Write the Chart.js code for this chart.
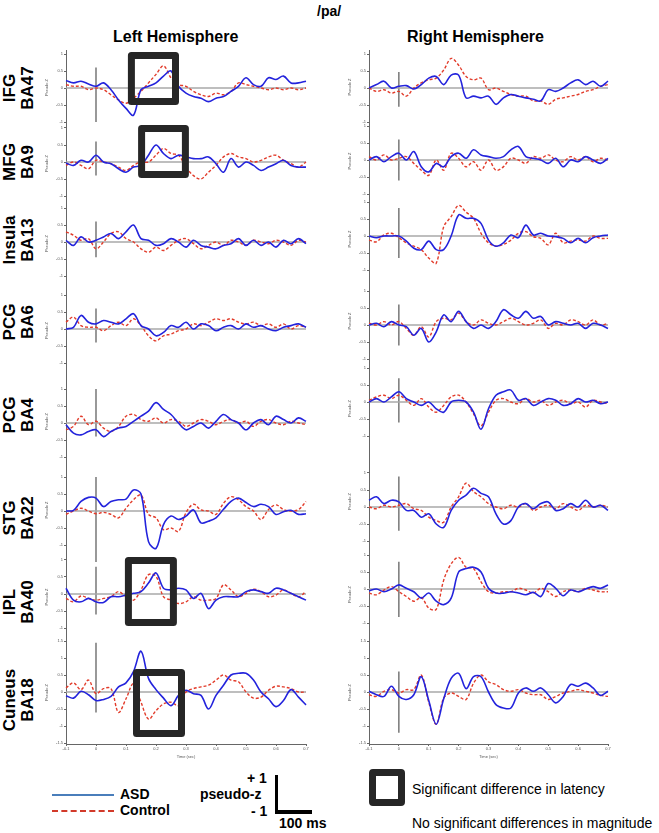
<!DOCTYPE html>
<html>
<head>
<meta charset="utf-8">
<script src="https://cdn.jsdelivr.net/npm/chart.js@4.4.0/dist/chart.umd.min.js"></script>
<style>
  body { margin:0; background:#fff; width:659px; height:833px; position:relative; overflow:hidden;
         font-family:"Liberation Sans", Arial, sans-serif; color:#000; }
  canvas { position:absolute; }
  .t { position:absolute; white-space:nowrap; }
  .b { font-weight:bold; }
  .row { position:absolute; width:120px; height:36px; line-height:18px; font-size:17px; font-weight:bold;
         text-align:center; transform:rotate(-90deg); white-space:nowrap; }
</style>
</head>
<body>

<div class="t b" style="left:317px;top:3px;font-size:14px;">/pa/</div>
<div class="t b" style="left:113px;top:28px;font-size:16px;">Left Hemisphere</div>
<div class="t b" style="left:407px;top:28px;font-size:16px;">Right Hemisphere</div>

<div id="rows"></div>

<!-- legend -->
<div style="position:absolute;left:52px;top:794px;width:62px;border-top:2px solid #4a7ebb;"></div>
<div class="t b" style="left:120px;top:786px;font-size:14px;">ASD</div>
<div style="position:absolute;left:52px;top:810px;width:62px;border-top:2px dashed #d23a2a;"></div>
<div class="t b" style="left:120px;top:802px;font-size:14px;">Control</div>

<div class="t b" style="left:247px;top:770px;font-size:14px;">+ 1</div>
<div class="t b" style="left:200px;top:786px;font-size:14px;">pseudo-z</div>
<div class="t b" style="left:251px;top:803px;font-size:14px;">- 1</div>
<div style="position:absolute;left:275px;top:775px;width:3px;height:39px;background:#000;"></div>
<div style="position:absolute;left:275px;top:810px;width:37px;height:4px;background:#000;"></div>
<div class="t b" style="left:279px;top:815px;font-size:14px;">100 ms</div>

<div style="position:absolute;left:369px;top:769px;width:36px;height:37px;box-sizing:border-box;border:7px solid #262626;border-radius:4px;"></div>
<div class="t" style="left:412px;top:781px;font-size:14px;">Significant difference in latency</div>
<div class="t" style="left:412px;top:815px;font-size:14px;">No significant differences in magnitude</div>

<script>
// time axis (s)
const times = [-0.1,-0.075,-0.05,-0.025,0,0.025,0.05,0.075,0.1,0.125,0.15,0.175,0.2,0.225,0.25,0.275,0.3,
               0.325,0.35,0.375,0.4,0.425,0.45,0.475,0.5,0.525,0.55,0.575,0.6,0.625,0.65,0.675,0.7];
const xTickLabels = ["-0.1","0","0.1","0.2","0.3","0.4","0.5","0.6","0.7"];
const yTickLabels = ["-1","-0.5","0","0.5","1"];
const yTickLabelsLast = ["-1.5","-1","-0.5","0","0.5","1","1.5"];

const rowNames = [["IFG","BA47"],["MFG","BA9"],["Insula","BA13"],["PCG","BA6"],
                  ["PCG","BA4"],["STG","BA22"],["IPL","BA40"],["Cuneus","BA18"]];

// ---- left hemisphere ----
const lIFG_asd = [0.22,0.15,0.2,0.12,0.05,0.15,-0.05,-0.35,-0.6,-0.8,-0.05,0.05,0.15,0.35,0.5,0.05,-0.15,-0.25,-0.3,-0.4,-0.3,-0.25,-0.1,0.05,0.3,0.1,0.05,0.3,0.25,0.35,0.15,0.15,0.2];
const lIFG_ctl = [0.1,0.05,0.05,-0.05,0,-0.05,-0.2,-0.35,-0.45,-0.3,-0.1,0.15,0.4,0.65,0.3,0.1,0.05,-0.1,-0.2,-0.25,-0.15,-0.2,-0.1,0.15,0.1,0.05,0,-0.05,0,-0.05,0,-0.05,0];
const lMFG_asd = [-0.03,-0.1,0.05,0,0.2,0,-0.05,-0.2,-0.3,-0.15,-0.1,0.2,0.5,0.25,0.1,0.2,0.15,0.1,0.1,0.15,-0.05,-0.3,0.1,-0.15,0,-0.1,-0.25,-0.15,-0.05,0.05,-0.1,-0.15,-0.15];
const lMFG_ctl = [-0.1,0,-0.1,-0.2,0.05,0,-0.05,-0.15,-0.25,-0.1,0,0,0.2,0.4,0.25,0.2,-0.15,-0.4,-0.5,-0.3,-0.1,0.15,0.25,0.15,0.1,0,0.05,0.15,0.2,0.05,-0.05,-0.15,0];
const lIns_asd = [0.05,-0.1,0.15,0,0.05,0.15,0.25,0.1,0.3,0.5,0.1,0.05,-0.1,-0.05,0.1,0,-0.15,0.05,-0.1,-0.15,-0.2,-0.1,-0.05,0.1,-0.1,0.05,-0.1,0,-0.15,0.05,-0.05,0.1,-0.05];
const lIns_ctl = [0.3,0.2,0.05,0.1,-0.2,0,0.25,0.3,0.1,0,-0.2,-0.3,-0.15,-0.25,-0.1,0.05,0.1,-0.05,-0.2,-0.1,0,-0.1,0.05,0,-0.1,0.05,0,-0.05,0.05,0,-0.1,0.05,0];
const lPCG6_asd = [0,0.05,0.4,0.2,0.15,0.25,0.2,0.15,0.3,0.45,0.1,0,-0.2,-0.1,0.1,0.05,0.2,0,0.15,0.1,-0.05,0.05,0.1,0,0.15,0.05,0.1,0,-0.05,0.05,0.1,0.15,0.05];
const lPCG6_ctl = [0.2,0.35,0.1,0.05,0.05,-0.05,0.1,0.2,0.1,0.3,0.1,-0.2,-0.35,-0.2,-0.15,-0.05,0,0.15,0.1,0.2,0.3,0.25,0.3,0.2,0.15,0.2,0.1,0.15,0.05,0.15,0,0.1,0.05];
const lPCG4_asd = [-0.05,-0.3,-0.35,-0.25,-0.2,-0.4,-0.25,-0.15,-0.1,0.05,0.2,0.35,0.6,0.4,0.25,0,-0.2,-0.1,0,-0.15,0.05,0.25,0.1,0,-0.2,0,0.1,-0.05,0.2,0.1,0,0.15,0.05];
const lPCG4_ctl = [-0.2,-0.1,0.2,-0.05,0.05,-0.15,-0.25,-0.1,0.2,0.25,0.1,0.05,0.15,0,0.1,0.05,-0.1,0,0.1,0.05,-0.05,0.05,0.1,0,0.05,-0.1,0.05,0.1,0,-0.05,0.05,0,-0.05];
const lSTG_asd = [0,0.02,0.28,0.4,0.38,0.13,0.28,0.33,0.35,0.62,0.5,-0.9,-1.1,-0.4,-0.15,-0.25,-0.15,0.03,-0.35,-0.3,-0.2,0.05,0.28,0.38,0.25,0.13,0.2,0.13,-0.1,-0.02,0.02,-0.1,-0.08];
const lSTG_ctl = [-0.1,0,0.08,0,-0.08,-0.04,-0.1,-0.2,0.08,0.33,0.47,-0.1,-0.2,-0.55,-0.5,-0.6,-0.05,0.2,0.03,0,-0.1,0.23,0.42,0.33,0.13,0,-0.25,0.04,0.18,0.04,0,0.04,0.28];
const lIPL_asd = [0.17,-0.18,-0.23,-0.13,-0.23,-0.25,-0.08,-0.08,-0.03,0.02,0.07,0.32,0.62,0.17,0.12,0.17,0.12,-0.13,0.02,-0.43,-0.18,-0.08,-0.08,-0.08,0.07,0.12,0.07,0.02,0.17,0.12,0.02,-0.08,-0.18];
const lIPL_ctl = [-0.13,-0.23,-0.06,-0.13,-0.18,-0.13,-0.08,0.07,-0.08,-0.18,0.12,0.57,0.52,-0.08,-0.18,-0.28,-0.23,-0.08,-0.18,-0.18,-0.13,0.27,0.12,-0.08,0.02,0.14,0.07,-0.08,-0.03,0.12,0.02,-0.08,0.07];
const lCun_asd = [-0.11,-0.18,0.02,-0.08,-0.25,-0.22,-0.13,0.15,0.27,0.6,1.2,0.4,0.07,-0.18,-0.4,-0.1,0.05,-0.05,-0.1,-0.5,-0.1,0.2,0.5,0.55,0.55,0.35,0,-0.2,-0.43,-0.25,0.07,-0.15,-0.38];
const lCun_ctl = [0.12,0.27,0.07,0.35,-0.05,0.1,0.1,-0.6,-0.2,0.25,-0.3,-0.8,-0.55,-0.35,-0.3,-0.4,0,0.1,0.15,0.2,0.35,0.5,0.35,0.3,0,-0.18,-0.15,0.05,0.17,0.15,0.1,0,0];

// ---- right hemisphere ----
const rIFG_asd = [0,0.1,0.2,0,0.05,0.07,-0.03,0.1,0.29,0.34,0.1,0.38,0.38,-0.29,-0.24,-0.29,-0.24,-0.48,-0.29,-0.19,-0.24,-0.29,-0.33,-0.38,-0.05,-0.1,0,0.15,0.24,0.1,0.2,0.05,0.2];
const rIFG_ctl = [0,-0.1,-0.05,-0.15,-0.1,-0.24,0,0.15,0.24,0.29,0.53,0.87,0.67,0.34,0.24,0.29,-0.05,0,-0.1,-0.19,-0.24,-0.24,-0.38,-0.38,-0.48,-0.33,-0.29,-0.24,-0.19,-0.1,-0.05,0.05,0.1];
const rMFG_asd = [0,0.1,-0.05,0.1,0.2,0,0.25,-0.2,-0.35,-0.1,-0.2,0.1,0.2,0.05,0.3,0.15,0.1,0.05,0.1,0.3,0.4,0.1,0.05,0,-0.1,0.05,-0.2,0,-0.05,0.1,0,-0.1,0.05];
const rMFG_ctl = [0.1,0,0.15,0,0.05,0.1,-0.1,-0.3,-0.45,0,-0.3,0.2,0.05,-0.2,-0.05,-0.3,0,-0.3,-0.2,0.05,0,-0.1,0.1,0.05,0.15,0,-0.05,0.1,0,0.1,-0.05,0.05,0];
const rIns_asd = [0,-0.05,0,0,0,-0.15,-0.36,-0.4,-0.15,-0.4,-0.4,0,0.62,0.52,0.52,0.37,-0.12,-0.3,-0.2,0.03,-0.05,0.32,0.03,0.08,0,-0.02,-0.07,-0.2,-0.07,-0.2,-0.05,0,0.03];
const rIns_ctl = [-0.12,-0.17,0.03,0.08,-0.05,-0.2,-0.3,-0.4,-0.65,-0.8,0.27,0.57,0.9,0.7,0.52,0.08,-0.2,-0.3,-0.25,-0.12,0.08,0.13,-0.02,-0.07,-0.26,0.08,-0.2,-0.15,-0.12,-0.15,0,-0.07,-0.07];
const rPCG6_asd = [0,0.05,-0.05,0.1,0,-0.05,-0.3,-0.1,-0.5,-0.2,0.3,0.1,0.4,0.1,-0.1,0,-0.1,0.1,0.45,0.3,0.2,0.4,0.2,0.25,0,0.1,0.05,0,0.05,-0.1,0.05,0,-0.1];
const rPCG6_ctl = [0.05,0,0.1,0,0.1,-0.1,-0.3,-0.05,-0.35,0.1,0.2,0.15,0.35,0.1,0,0.15,0.05,0,0.1,0.2,0.1,0,0.05,0.15,-0.1,0.05,0,0.15,0.1,0,0.15,0,0.05];
const rPCG4_asd = [0,0.1,0,0.15,0.3,0.1,0,-0.1,0,-0.2,-0.3,0,0.05,0,-0.3,-0.8,-0.2,0.2,0.3,0.35,0.05,0.1,-0.1,0,0.1,0.05,-0.1,-0.05,0.1,0,0.05,-0.05,0];
const rPCG4_ctl = [0.05,0.15,0.2,0.1,0.2,0.05,-0.1,0.1,-0.15,-0.3,-0.1,0.15,0.2,0,-0.35,-0.7,-0.3,0.05,0.1,0,-0.05,0.1,0,0.05,-0.1,0,0.05,-0.05,0,-0.15,0.05,0,-0.05];
const rSTG_asd = [0.2,0.3,0.1,0.2,0.15,-0.1,-0.1,-0.3,-0.2,-0.5,-0.6,-0.1,0.2,0.35,0.55,0.4,0.3,-0.2,-0.5,-0.4,0,0.1,-0.05,0.1,0.15,-0.1,-0.05,0.1,0,0.2,0,0.05,-0.1];
const rSTG_ctl = [0,-0.05,0.05,0,0.05,0.1,-0.05,-0.1,-0.3,-0.4,-0.45,0,0.3,0.7,0.45,0.3,0.1,0,-0.05,0.05,0,0.1,-0.1,0,0.05,-0.05,0.1,0,-0.1,0.05,0,0.05,0];
const rIPL_asd = [-0.05,0,-0.08,0,0.12,0.02,-0.08,-0.27,-0.12,-0.36,-0.46,-0.27,0.5,0.6,0.64,0.5,0.02,-0.12,-0.12,-0.08,-0.12,-0.17,-0.1,-0.22,0.16,0.02,-0.2,-0.03,-0.08,0,0.07,0.02,0.12];
const rIPL_ctl = [-0.12,-0.17,-0.03,0.07,-0.08,-0.22,-0.36,-0.25,-0.56,-0.6,0.26,0.74,0.93,0.64,0.6,0.21,-0.08,-0.12,-0.08,-0.08,0.02,-0.03,-0.12,0.02,-0.08,-0.22,-0.08,-0.03,-0.08,0.02,-0.03,-0.08,-0.08];
const rCun_asd = [0.02,-0.08,-0.13,0.17,-0.13,-0.22,-0.08,0.45,-0.25,-0.95,-0.2,0.4,0.55,0.1,0.45,0.45,0,-0.37,-0.47,-0.47,-0.03,0.12,0.02,0.12,-0.08,-0.32,-0.13,0.22,0.17,0.26,0.12,-0.1,0.02];
const rCun_ctl = [-0.08,-0.13,0.02,0.07,-0.03,0.07,0.07,0.5,-0.3,-0.95,-0.18,-0.03,-0.13,-0.22,0.26,0.5,0.3,0.22,0.07,0.02,0.07,-0.03,-0.08,-0.08,-0.22,-0.13,-0.03,0.02,0.07,0.02,-0.03,-0.1,-0.13];

// stimulus onset marker extents (pseudo-z) per panel
const leftOnset  = [[0.6,-1.0],[0.6,-0.4],[0.6,-0.45],[0.6,-0.4],[1.0,-0.4],[1.0,-1.5],[0.8,-0.6],[1.45,-0.6]];
const rightOnset = [[0.47,-0.55],[0.6,-0.6],[0.82,-0.65],[0.6,-0.6],[0.7,-0.6],[0.9,-0.7],[0.8,-0.82],[0.6,-1.2]];

const leftASD  = [lIFG_asd,lMFG_asd,lIns_asd,lPCG6_asd,lPCG4_asd,lSTG_asd,lIPL_asd,lCun_asd];
const leftCTL  = [lIFG_ctl,lMFG_ctl,lIns_ctl,lPCG6_ctl,lPCG4_ctl,lSTG_ctl,lIPL_ctl,lCun_ctl];
const rightASD = [rIFG_asd,rMFG_asd,rIns_asd,rPCG6_asd,rPCG4_asd,rSTG_asd,rIPL_asd,rCun_asd];
const rightCTL = [rIFG_ctl,rMFG_ctl,rIns_ctl,rPCG6_ctl,rPCG4_ctl,rSTG_ctl,rIPL_ctl,rCun_ctl];

// latency boxes: [column, row, t0, t1, zTop, zBottom]
const latencyBoxes = [[0,0,0.118,0.265,0.956,-0.397],[0,1,0.152,0.298,0.985,-0.368],
                      [0,6,0.108,0.258,0.985,-0.838],[0,7,0.135,0.285,0.574,-1.22]];

// layout (pixels)
const PX_PER_UNIT = 34;
const colAxisX = [66, 369], colPlotW = [240, 239];
const colZero = [[88,162,242,329,423,511,594,692],[88,160,236,325,402,507,589,692]];
const colBounds = [[50,125,202,285,376,467,553,641,744],[50,124,198,280,362,455,548,641,744]];
const rowLabelY = [88,162,240,322,415,518,602,700];

const rowsDiv = document.getElementById('rows');
rowNames.forEach((n, i) => {
  const d = document.createElement('div');
  d.className = 'row';
  d.style.left = (19 - 60) + 'px';
  d.style.top = (rowLabelY[i] - 18) + 'px';
  d.innerHTML = n[0] + '<br>' + n[1];
  rowsDiv.appendChild(d);
});

const pts = vals => times.map((t, i) => ({x: t, y: vals[i]}));

function makePanel(col, row) {
  const last = row === 7;
  const zero = colZero[col][row];
  const top = colBounds[col][row], bottom = colBounds[col][row + 1];
  const yMax = (zero - top) / PX_PER_UNIT, yMin = (zero - bottom) / PX_PER_UNIT;
  const padT = 40, padB = last ? 2 : 40, xH = last ? 16 : 0, yW = 22, padR = 8;
  const cv = document.createElement('canvas');
  cv.width = yW + colPlotW[col] + padR;
  cv.height = padT + (bottom - top) + xH + padB;
  cv.style.left = (colAxisX[col] - yW) + 'px';
  cv.style.top = (top - padT) + 'px';
  document.body.appendChild(cv);

  const asd = (col ? rightASD : leftASD)[row];
  const ctl = (col ? rightCTL : leftCTL)[row];
  const on = (col ? rightOnset : leftOnset)[row];
  const yLabels = last ? yTickLabelsLast : yTickLabels;
  const boxes = latencyBoxes.filter(b => b[0] === col && b[1] === row);

  new Chart(cv, {
    type: 'line',
    data: {
      datasets: [
        { data: pts(asd), borderColor: '#2323dc', borderWidth: 1.6, pointRadius: 0, tension: 0.35, clip: false },
        { data: pts(ctl), borderColor: '#e23b2a', borderWidth: 1.4, borderDash: [3, 2], pointRadius: 0, tension: 0.35, clip: false },
        { data: [{x: -0.1, y: 0}, {x: 0.7, y: 0}], borderColor: '#a8a8a8', borderWidth: 1.6, pointRadius: 0, clip: false },
        { data: [{x: 0, y: on[0]}, {x: 0, y: on[1]}], borderColor: '#555', borderWidth: 1.2, pointRadius: 0, clip: false }
      ]
    },
    options: {
      responsive: false,
      animation: false,
      events: [],
      layout: { padding: { top: padT, bottom: padB, left: 0, right: padR } },
      plugins: { legend: { display: false }, tooltip: { enabled: false } },
      scales: {
        x: {
          type: 'linear', min: -0.1, max: 0.7, display: last,
          afterFit: s => { s.height = xH; },
          afterBuildTicks: s => { s.ticks = xTickLabels.map(v => ({value: parseFloat(v)})); },
          ticks: { autoSkip: false, maxRotation: 0, padding: 0, color: '#555', font: { size: 4 },
                   callback: (v, i) => xTickLabels[i] },
          grid: { drawOnChartArea: false, tickLength: 2, color: '#666' },
          border: { color: '#666', width: 1 },
          title: { display: true, text: 'Time (sec)', color: '#555', font: { size: 4 }, padding: 1 }
        },
        y: {
          min: yMin, max: yMax,
          afterFit: s => { s.width = yW; },
          afterBuildTicks: s => {
            s.ticks = yLabels.map(v => ({value: parseFloat(v)}))
                             .filter(t => t.value >= yMin - 0.03 && t.value <= yMax + 0.03);
          },
          ticks: { autoSkip: false, padding: 1, color: '#555', font: { size: 4 },
                   callback: v => String(v) },
          grid: { drawOnChartArea: false, tickLength: 2, color: '#666' },
          border: { color: '#666', width: 1 },
          title: { display: true, text: 'Pseudo Z', color: '#555', font: { size: 4 }, padding: 0 }
        }
      }
    },
    plugins: [{
      id: 'latencyBox',
      afterDatasetsDraw(chart) {
        const c = chart.ctx, xs = chart.scales.x, ys = chart.scales.y;
        boxes.forEach(b => {
          const x0 = xs.getPixelForValue(b[2]), x1 = xs.getPixelForValue(b[3]);
          const y0 = ys.getPixelForValue(b[4]), y1 = ys.getPixelForValue(b[5]);
          c.save();
          c.lineWidth = 7;
          c.lineJoin = 'round';
          c.strokeStyle = '#262626';
          c.strokeRect(x0, y0, x1 - x0, y1 - y0);
          c.restore();
        });
      }
    }]
  });
}

for (let col = 0; col < 2; col++)
  for (let row = 0; row < 8; row++)
    makePanel(col, row);
</script>
</body>
</html>
